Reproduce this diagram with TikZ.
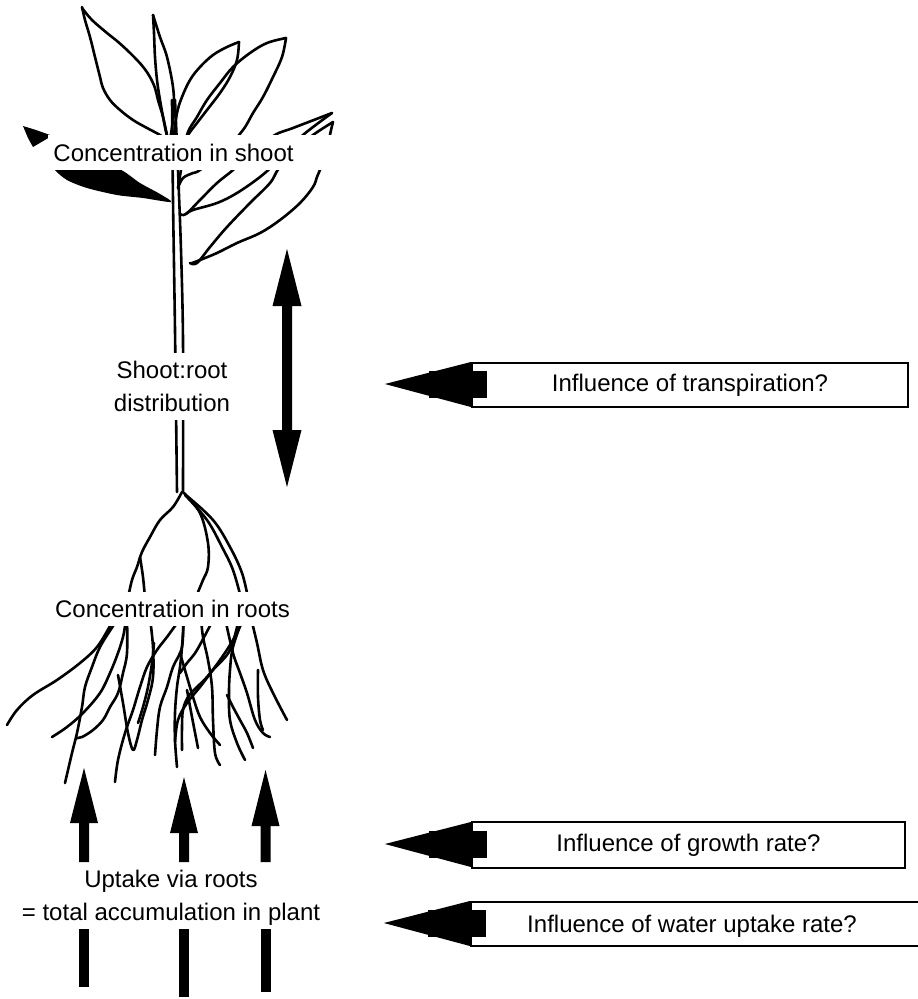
\documentclass[tikz,border=0pt]{standalone}
\usepackage{fontspec}
\setmainfont{Liberation Sans}
\usetikzlibrary{calc}
\newcommand\boxhead[1]{%
  \fill ($(#1.west)+(-86,-1)$) -- ($(#1.west)+(0,-23)$) -- ($(#1.west)+(0,22)$) -- cycle;
  \fill ($(#1.west)+(-42,-14)$) rectangle ($(#1.west)+(16,13)$);}
\begin{document}
\begin{tikzpicture}[x=1pt,y=-1pt,
  pl/.style={line width=2.6pt, line cap=round, line join=round},
  lbl/.style={font=\fontsize{24}{33}\selectfont, inner sep=0pt},
  ibox/.style={draw, line width=2.2pt, fill=white, minimum height=44pt, inner sep=0pt, font=\fontsize{24}{33}\selectfont},
  panel/.style={fill=white},
  bar/.style={fill=black}]
\useasboundingbox (0,0) rectangle (918,999);

% ---------- shoot ----------
% leaf A
\draw[pl] plot[smooth, tension=0.6] coordinates {(82,7) (85,20) (90,37) (95,57) (100,77) (103,88) (110,100) (120,110) (133,120) (147,128) (160,135) (170,142)};
\draw[pl] plot[smooth, tension=0.6] coordinates {(82,8) (92,20) (107,33) (117,41) (127,50) (137,60) (144,68) (150,77) (155,88) (158,100) (163,117) (168,140)};
% leaf B
\draw[pl] plot[smooth, tension=0.6] coordinates {(153,15) (154,33) (155,57) (157,80) (160,100) (165,127) (168,140)};
\draw[pl] plot[smooth, tension=0.6] coordinates {(153,15) (160,37) (167,57) (173,87) (174,110) (172,127) (170,140)};
% leaf C
\draw[pl] plot[smooth, tension=0.6] coordinates {(239,42) (227,47) (213,55) (200,67) (190,80) (182,97) (177,113) (174,135) (173,145)};
\draw[pl] plot[smooth, tension=0.6] coordinates {(239,42) (237,60) (230,77) (220,93) (207,110) (197,123) (188,135) (180,150)};
% leaf D
\draw[pl] plot[smooth, tension=0.6] coordinates {(286,38) (267,43) (250,53) (233,67) (220,83) (207,100) (197,117) (187,135) (181,170) (178,188)};
\draw[pl] plot[smooth, tension=0.6] coordinates {(286,38) (282,57) (273,77) (263,97) (253,113) (243,130) (225,150) (200,170) (193,173) (183,178) (178,188)};
% leaf E
\draw[pl] plot[smooth, tension=0.6] coordinates {(180,214) (186,214) (200,200) (217,183) (233,170) (252,152) (275,135) (293,128) (332,113)};
\draw[pl] plot[smooth, tension=0.6] coordinates {(186,214) (193,210) (217,203) (237,193) (260,177) (277,162) (290,150) (303,135) (332,113)};
% leaf F
\draw[pl] plot[smooth, tension=0.6] coordinates {(190,263) (197,263) (210,247) (227,227) (250,203) (270,183) (279,168) (295,150) (313,135) (333,122)};
\draw[pl] plot[smooth, tension=0.6] coordinates {(192,263) (200,260) (217,253) (237,243) (260,233) (280,220) (300,203) (313,187) (317,177) (322,165) (328,150) (330,135) (333,122)};
% leaf G (filled): tip and body
\fill (23,126) -- (36,130) -- (50,135) -- (50,137) -- (33,147) -- (28,138) -- cycle;
\fill plot[smooth cycle, tension=0.5] coordinates {(50,160) (80,162) (117,168) (140,183) (160,194) (171,202) (143,198) (117,195) (87,188) (67,180) (55,170)};
% stem
\draw[pl] plot[smooth] coordinates {(172,100) (173,200) (175,330) (177,492)};
\draw[pl] plot[smooth] coordinates {(175,100) (178,170) (181,250) (183,340) (183,492)};

% ---------- roots ----------
\draw[pl] plot[smooth, tension=0.6] coordinates {(182,492) (173,507) (160,520) (150,537) (142,552) (137,567) (132,580) (128,598)};
\draw[pl] plot[smooth, tension=0.6] coordinates {(140,557) (143,577) (145,598)};
\draw[pl] plot[smooth, tension=0.6] coordinates {(184,493) (200,513) (208,543) (208,567) (203,580) (198,592)};
\draw[pl] plot[smooth, tension=0.6] coordinates {(185,495) (207,520) (222,547) (233,570) (241,598)};
\draw[pl] plot[smooth, tension=0.6] coordinates {(187,496) (213,520) (230,547) (242,573) (248,598)};
% below label
\draw[pl] plot[smooth, tension=0.6] coordinates {(114,618) (110,626) (97,647) (80,663) (57,680) (33,695) (17,710) (7,725)};
\draw[pl] plot[smooth, tension=0.6] coordinates {(126,618) (125,626) (123,637) (118,653) (110,673) (100,693) (83,713) (67,727) (52,737)};
\draw[pl] plot[smooth, tension=0.6] coordinates {(118,618) (113,626) (100,647) (92,667) (85,687) (82,707) (77,733) (72,753) (65,783)};
\draw[pl] plot[smooth, tension=0.6] coordinates {(127,618) (127,653) (123,673) (118,693) (110,707) (103,720) (93,730) (82,737) (76,738)};
\draw[pl] plot[smooth, tension=0.6] coordinates {(181,618) (175,626) (167,637) (157,650) (147,667) (140,687) (133,710) (125,733) (118,760) (115,782)};
\draw[pl] plot[smooth, tension=0.6] coordinates {(118,675) (123,703) (128,733) (133,750) (137,740) (142,720) (148,700) (153,677) (153,647) (150,618)};
\draw[pl] plot[smooth, tension=0.6] coordinates {(138,723) (143,707) (148,687) (152,663) (154,643)};
\draw[pl] plot[smooth, tension=0.6] coordinates {(183,618) (182,647) (173,667) (167,687) (160,707) (157,730) (155,755)};
\draw[pl] plot[smooth, tension=0.6] coordinates {(184,618) (182,647) (180,667) (177,687) (175,713) (175,740) (177,767)};
\draw[pl] plot[smooth, tension=0.6] coordinates {(244,618) (233,640) (220,660) (207,677) (197,687) (188,697) (183,710) (182,727) (182,750)};
\draw[pl] plot[smooth, tension=0.6] coordinates {(239,618) (230,650) (213,670) (200,687) (187,703) (178,720) (175,742)};
\draw[pl] plot[smooth, tension=0.6] coordinates {(214,618) (197,650) (187,663) (180,673)};
\draw[pl] plot[smooth, tension=0.6] coordinates {(180,653) (187,677) (193,697) (200,717) (210,733) (220,745)};
\draw[pl] plot[smooth, tension=0.6] coordinates {(187,690) (192,717) (198,748)};
\draw[pl] plot[smooth, tension=0.6] coordinates {(201,618) (203,637) (208,660) (212,687) (213,720) (215,753) (220,765)};
\draw[pl] plot[smooth, tension=0.6] coordinates {(225,618) (233,653) (240,673) (247,693) (255,720) (263,733) (270,737)};
\draw[pl] plot[smooth, tension=0.6] coordinates {(243,618) (233,647) (230,670) (229,693) (230,720) (237,743) (245,760)};
\draw[pl] plot[smooth, tension=0.6] coordinates {(227,695) (233,707) (240,720) (247,733) (253,748)};
\draw[pl] plot[smooth, tension=0.6] coordinates {(258,670) (258,697) (260,720) (263,730)};
\draw[pl] plot[smooth, tension=0.6] coordinates {(251,618) (257,643) (263,670) (273,693) (287,720)};

% ---------- labels on the plant ----------
\fill[panel] (48,135) rectangle (335,170);
\node[lbl] (shoot) at (173.5,153) {Concentration in shoot};
\node[lbl, panel, align=center, minimum height=67pt, inner xsep=4pt] (dist) at (172,386.5) {Shoot:root\\distribution};
\node[lbl, panel, minimum height=34pt, inner xsep=5pt] (rootlbl) at (172.5,609) {Concentration in roots};
\node[lbl, align=center] (uptake) at (171,898) {Uptake via roots\\= total accumulation in plant};

% ---------- double arrow ----------
\fill (287,249) -- (301.5,306) -- (292,306) -- (292,430) -- (301.5,430) -- (287,487) -- (272.5,430) -- (282,430) -- (282,306) -- (272.5,306) -- cycle;

% ---------- uptake arrows ----------
\fill (84,768) -- (98,823) -- (89,823) -- (89,862) -- (79,862) -- (79,823) -- (70,823) -- cycle;
\fill (184,777) -- (198,833) -- (189,833) -- (189,862) -- (179,862) -- (179,833) -- (170,833) -- cycle;
\fill (265.5,770) -- (279.5,826) -- (270.5,826) -- (270.5,862) -- (260.5,862) -- (260.5,826) -- (251.5,826) -- cycle;
\fill[bar] (79,929) rectangle (89,987);
\fill[bar] (179,929) rectangle (189,997);
\fill[bar] (260.5,929) rectangle (270.5,992);

% ---------- influence boxes ----------
\node[ibox, minimum width=436pt] (trans) at (690,385) {Influence of transpiration?};
\boxhead{trans}
\node[ibox, minimum width=433pt, minimum height=46pt] (growth) at (688.5,845) {Influence of growth rate?};
\boxhead{growth}
\node[ibox, minimum width=470pt] (waterbox) at (706,924) {};
\node[lbl] (water) at (692,926) {Influence of water uptake rate?};
\boxhead{waterbox}
\end{tikzpicture}
\end{document}
